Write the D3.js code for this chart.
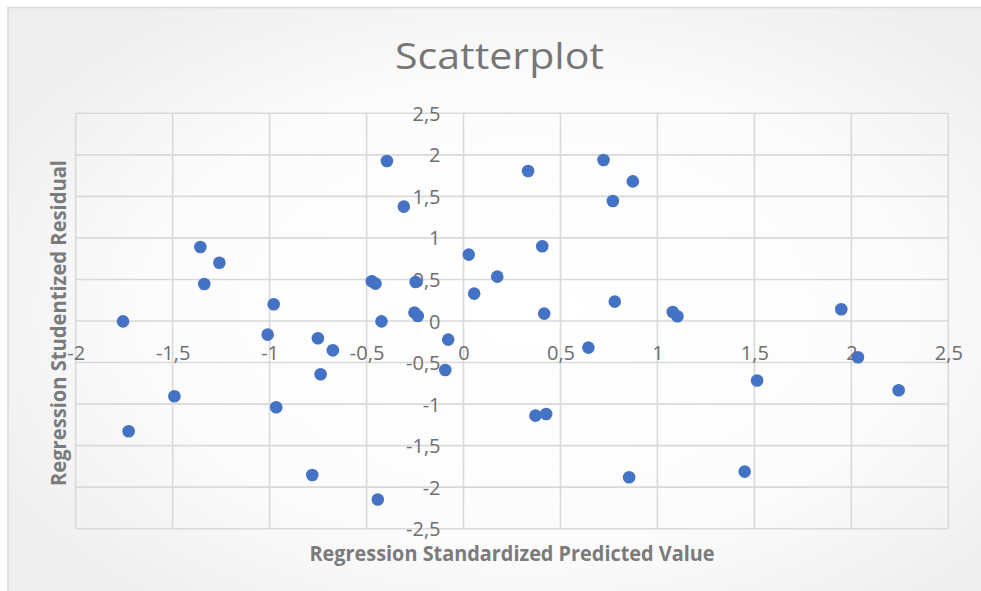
<!DOCTYPE html>
<html>
<head>
<meta charset="utf-8">
<script src="https://cdn.jsdelivr.net/npm/d3@7"></script>
<style>
  html, body { margin: 0; padding: 0; background: #ffffff; }
  svg { display: block; }
</style>
</head>
<body>
<div id="chart"></div>
<script>
// Regression Standardized Predicted Value
const predicted = [
  -0.395, -0.308, -1.357, -1.259, -1.337, -0.979, -1.756, -1.010, -0.751, -0.674,
  -0.473, -0.454, -0.247, -0.253, -0.236, -0.423, -0.079, 0.027, 0.055, -0.737,
  -1.491, -0.966, -1.727, -0.780, -0.442, -0.094, 0.333, 0.722, 0.873, 0.770,
  0.406, 0.174, 0.780, 0.416, 1.079, 1.103, 1.948, 0.644, 2.034, 1.514,
  2.244, 0.371, 0.426, 0.854, 1.450
];
// Regression Studentized Residual
const residual = [
  1.925, 1.377, 0.891, 0.702, 0.446, 0.201, -0.004, -0.164, -0.208, -0.353,
  0.478, 0.450, 0.469, 0.101, 0.060, -0.004, -0.224, 0.799, 0.330, -0.641,
  -0.906, -1.038, -1.327, -1.853, -2.149, -0.590, 1.805, 1.937, 1.681, 1.444,
  0.899, 0.534, 0.233, 0.089, 0.108, 0.057, 0.141, -0.320, -0.437, -0.717,
  -0.834, -1.139, -1.119, -1.881, -1.813
];
const xTicks = [-2, -1.5, -1, -0.5, 0, 0.5, 1, 1.5, 2, 2.5];
const yTicks = [-2.5, -2, -1.5, -1, -0.5, 0, 0.5, 1, 1.5, 2, 2.5];

const width = 981;
const height = 591;
const gridColor = "#d9d9d9";
const textColor = "#6e6e6e";
const fontFamily = "'Open Sans', 'Noto Sans', sans-serif";

// decimal comma like the original
const fmt = d => String(d).replace(".", ",");

const svg = d3.select("#chart")
  .append("svg")
  .attr("width", width)
  .attr("height", height);

const defs = svg.append("defs");
const bg = defs.append("radialGradient")
  .attr("id", "bg")
  .attr("cx", "52%")
  .attr("cy", "50%")
  .attr("r", "62%");
bg.append("stop").attr("offset", "0%").attr("stop-color", "#ffffff");
bg.append("stop").attr("offset", "60%").attr("stop-color", "#fcfcfc");
bg.append("stop").attr("offset", "100%").attr("stop-color", "#eeeeee");

// chart area, border runs off the right and bottom edges
svg.append("rect")
  .attr("x", 8)
  .attr("y", 7.5)
  .attr("width", width + 20)
  .attr("height", height + 20)
  .attr("fill", "url(#bg)")
  .attr("stroke", gridColor)
  .attr("stroke-width", 1.5);

const x = d3.scaleLinear().domain([-2, 2.5]).range([75.7, 948.3]);
const y = d3.scaleLinear().domain([-2.5, 2.5]).range([528.7, 113.3]);

// gridlines
const grid = svg.append("g").attr("stroke", gridColor).attr("stroke-width", 1.6);
grid.selectAll("line.v")
  .data(xTicks)
  .join("line")
  .attr("class", "v")
  .attr("x1", d => x(d)).attr("x2", d => x(d))
  .attr("y1", y(2.5)).attr("y2", y(-2.5));
grid.selectAll("line.h")
  .data(yTicks)
  .join("line")
  .attr("class", "h")
  .attr("x1", x(-2)).attr("x2", x(2.5))
  .attr("y1", d => y(d)).attr("y2", d => y(d));

// axes crossing at zero
const xAxis = svg.append("g")
  .attr("transform", `translate(0,${y(0)})`)
  .call(d3.axisBottom(x).tickValues(xTicks).tickFormat(fmt).tickSize(0));
const yAxis = svg.append("g")
  .attr("transform", `translate(${x(0)},0)`)
  .call(d3.axisLeft(y).tickValues(yTicks).tickFormat(fmt).tickSize(0).tickPadding(23));

[xAxis, yAxis].forEach(a => {
  a.select(".domain").remove();
  a.selectAll("text")
    .attr("fill", textColor)
    .style("font-family", fontFamily)
    .style("font-size", "20px");
});
xAxis.selectAll("text").attr("dy", "0.35em").attr("y", 32);
yAxis.selectAll("text").attr("dy", "0.35em");

// points
svg.append("g")
  .selectAll("circle")
  .data(predicted.map((d, i) => [d, residual[i]]))
  .join("circle")
  .attr("cx", d => x(d[0]))
  .attr("cy", d => y(d[1]))
  .attr("r", 6.3)
  .attr("fill", "#4472c4");

// title
svg.append("text")
  .attr("x", 499.5)
  .attr("y", 68.5)
  .attr("text-anchor", "middle")
  .attr("fill", "#767676")
  .attr("textLength", 209)
  .attr("lengthAdjust", "spacingAndGlyphs")
  .style("font-family", fontFamily)
  .style("font-size", "37px")
  .text("Scatterplot");

// axis titles
svg.append("text")
  .attr("x", (x(-2) + x(2.5)) / 2)
  .attr("y", 561)
  .attr("text-anchor", "middle")
  .attr("fill", "#7b7b7b")
  .attr("textLength", 405)
  .attr("lengthAdjust", "spacingAndGlyphs")
  .style("font-family", fontFamily)
  .style("font-weight", "bold")
  .style("font-size", "21px")
  .text("Regression Standardized Predicted Value");

svg.append("text")
  .attr("transform", `translate(66,${(y(2.5) + y(-2.5)) / 2 + 2}) rotate(-90)`)
  .attr("text-anchor", "middle")
  .attr("fill", "#7b7b7b")
  .attr("textLength", 326)
  .attr("lengthAdjust", "spacingAndGlyphs")
  .style("font-family", fontFamily)
  .style("font-weight", "bold")
  .style("font-size", "21px")
  .text("Regression Studentized Residual");
</script>
</body>
</html>
